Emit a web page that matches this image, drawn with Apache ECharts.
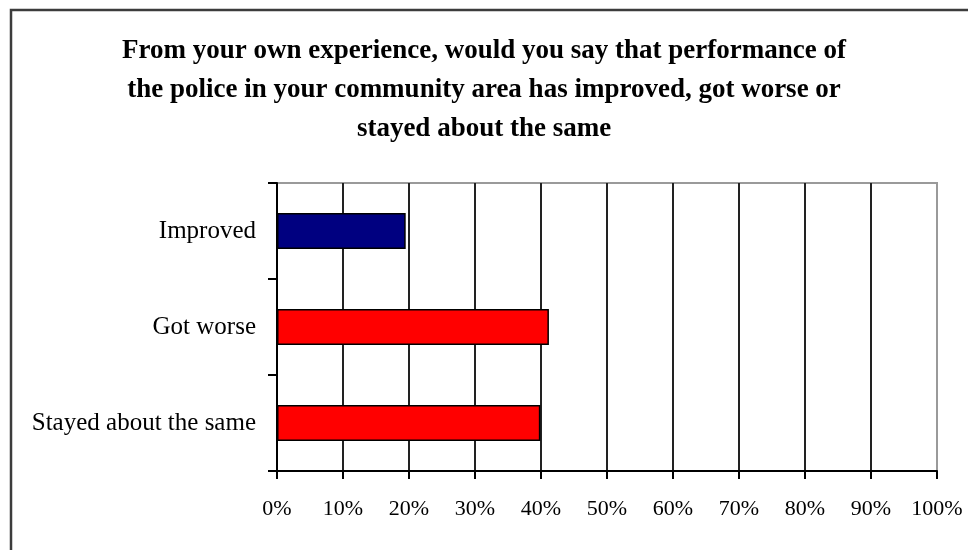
<!DOCTYPE html>
<html>
<head>
<meta charset="utf-8">
<script src="https://cdn.jsdelivr.net/npm/echarts@6/dist/echarts.min.js"></script>
<style>
  html, body { margin: 0; padding: 0; background: #fff; }
  #chart { width: 968px; height: 550px; }
</style>
</head>
<body>
<div id="chart"></div>
<script>
// survey answers
var categories = ["Improved", "Got worse", "Stayed about the same"];
var shares = [19.5, 41.2, 39.9];
var xTicks = { min: 0, max: 100, step: 10 };

var serif = "'Liberation Serif', 'DejaVu Serif', serif";

var chart = echarts.init(document.getElementById("chart"));
var option = {
  animation: false,
  backgroundColor: "#fff",
  title: {
    text: "From your own experience, would you say that performance of\nthe police in your community area has improved, got worse or\nstayed about the same",
    left: "center",
    top: 27,
    textStyle: {
      fontFamily: serif,
      fontWeight: "bold",
      fontSize: 27,
      lineHeight: 39,
      color: "#000"
    }
  },
  graphic: [
    {
      // outer frame of the chart area
      type: "rect",
      shape: { x: 11, y: 10, width: 990, height: 580 },
      style: { fill: "none", stroke: "#3c3c3c", lineWidth: 2.5 },
      silent: true
    }
  ],
  grid: {
    left: 277,
    right: 31,
    top: 183,
    bottom: 79,
    show: true,
    borderColor: "#9a9a9a",
    borderWidth: 2,
    backgroundColor: "transparent"
  },
  xAxis: {
    type: "value",
    min: xTicks.min,
    max: xTicks.max,
    interval: xTicks.step,
    axisLine: { show: true, lineStyle: { color: "#000", width: 2 } },
    axisTick: { show: true, inside: false, length: 8, lineStyle: { color: "#000", width: 2 } },
    axisLabel: {
      margin: 27,
      formatter: "{value}%",
      fontFamily: serif,
      fontSize: 22,
      color: "#000"
    },
    splitLine: {
      show: true,
      lineStyle: {
        // last line is the grey right border
        color: ["#222", "#222", "#222", "#222", "#222", "#222", "#222", "#222", "#222", "#222", "#9a9a9a"],
        width: 2
      }
    }
  },
  yAxis: {
    type: "category",
    inverse: true,
    data: categories,
    axisLine: { show: true, lineStyle: { color: "#000", width: 2 } },
    axisTick: { show: true, inside: false, length: 9, lineStyle: { color: "#000", width: 2 } },
    axisLabel: {
      margin: 21,
      fontFamily: serif,
      fontSize: 25,
      color: "#000"
    },
    splitLine: { show: false }
  },
  series: [
    {
      type: "bar",
      data: shares,
      barWidth: 36,
      itemStyle: {
        color: function (p) {
          return p.dataIndex === 0 ? "#000080" : "#ff0000";
        },
        borderColor: "#000",
        borderWidth: 1.5
      }
    }
  ]
};
chart.setOption(option);
</script>
</body>
</html>
